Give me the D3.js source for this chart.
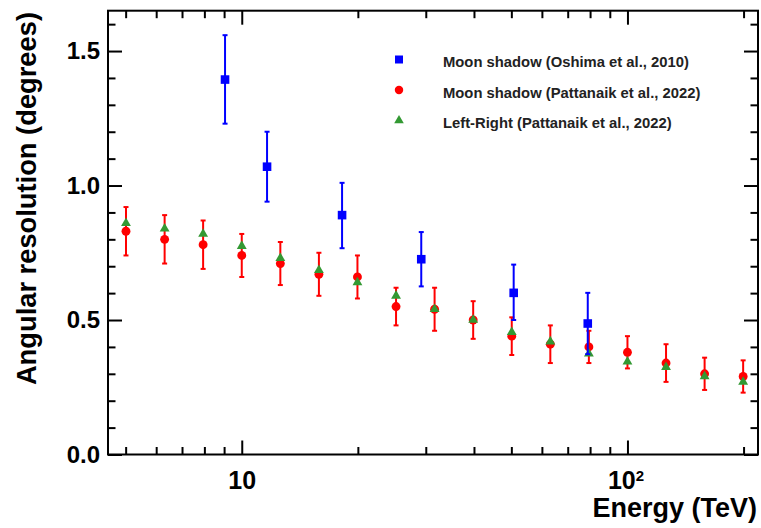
<!DOCTYPE html>
<html>
<head>
<meta charset="utf-8">
<script src="https://cdn.jsdelivr.net/npm/d3@7"></script>
<style>
  body { margin: 0; background: #fff; }
  svg { display: block; font-family: "Liberation Sans", Arial, Helvetica, sans-serif; font-weight: bold; }
</style>
</head>
<body>
<svg width="761" height="528"></svg>
<script>
// energies in TeV
const energyP = [5.01, 6.31, 7.94, 10, 12.59, 15.85, 19.95, 25.12, 31.62, 39.81, 50.12, 63.10, 79.43, 100, 125.9, 158.5, 199.5];
// Moon shadow (Pattanaik et al., 2022)
const moonP    = [0.83, 0.80, 0.78, 0.74, 0.71, 0.67, 0.66, 0.55, 0.54, 0.50, 0.44, 0.41, 0.40, 0.38, 0.34, 0.30, 0.29];
const moonPHi  = [0.92, 0.89, 0.87, 0.82, 0.79, 0.75, 0.74, 0.62, 0.62, 0.57, 0.51, 0.48, 0.46, 0.44, 0.41, 0.36, 0.35];
const moonPLo  = [0.74, 0.71, 0.69, 0.66, 0.63, 0.59, 0.58, 0.48, 0.46, 0.43, 0.37, 0.34, 0.34, 0.32, 0.27, 0.24, 0.23];
// Left-Right (Pattanaik et al., 2022)
const leftRight = [0.86, 0.84, 0.82, 0.775, 0.73, 0.685, 0.64, 0.59, 0.54, 0.50, 0.455, 0.42, 0.375, 0.345, 0.325, 0.29, 0.27];
// Moon shadow (Oshima et al., 2010)
const energyO  = [9.05, 11.63, 18.2, 29.2, 50.7, 78.9];
const moonO    = [1.394, 1.07, 0.89, 0.726, 0.601, 0.487];
const moonOHi  = [1.559, 1.20, 1.01, 0.827, 0.706, 0.601];
const moonOLo  = [1.23, 0.94, 0.767, 0.625, 0.50, 0.373];

const xMajor = [10, 100];
const xMinor = [5, 6, 7, 8, 9, 20, 30, 40, 50, 60, 70, 80, 90, 200];
const yMajor = [0, 0.5, 1.0, 1.5];
const yMinor = [0.1, 0.2, 0.3, 0.4, 0.6, 0.7, 0.8, 0.9, 1.1, 1.2, 1.3, 1.4, 1.6];

const legendLabels = ["Moon shadow (Oshima et al., 2010)", "Moon shadow (Pattanaik et al., 2022)", "Left-Right (Pattanaik et al., 2022)"];

const blue = "#0000ff", red = "#ff0000", green = "#339933";

const pLeft = 108, pRight = 758, pTop = 10.7, pBottom = 454.5;
const svg = d3.select("svg");

const x = d3.scaleLog().domain([4.5, 218]).range([pLeft, pRight]);
const y = d3.scaleLinear().domain([0, 1.65]).range([pBottom, pTop]);

// frame
svg.append("rect")
    .attr("x", pLeft).attr("y", pTop)
    .attr("width", pRight - pLeft).attr("height", pBottom - pTop)
    .attr("fill", "none").attr("stroke", "#000").attr("stroke-width", 2);

function styleAxis(g) {
    g.select(".domain").remove();
    g.selectAll(".tick line").attr("stroke", "#000").attr("stroke-width", 2);
}

// x axes (bottom + mirrored top)
svg.append("g").attr("transform", "translate(0," + pBottom + ")")
    .call(d3.axisBottom(x).tickValues(xMinor).tickSize(-7.5).tickFormat(""))
    .call(styleAxis);
const xb = svg.append("g").attr("transform", "translate(0," + pBottom + ")")
    .call(d3.axisBottom(x).tickValues(xMajor).tickSize(-14).tickPadding(17).tickFormat(d => "10"))
    .call(styleAxis);
xb.selectAll("text").attr("font-size", 25).attr("font-family", null).attr("fill", "#000")
    .each(function(d) {
        if (d === 100) {
            d3.select(this).append("tspan").attr("dy", -8).attr("font-size", 15).text("2");
            d3.select(this).attr("dx", -2);
        }
    });
svg.append("g").attr("transform", "translate(0," + pTop + ")")
    .call(d3.axisTop(x).tickValues(xMinor).tickSize(-7.5).tickFormat(""))
    .call(styleAxis);
svg.append("g").attr("transform", "translate(0," + pTop + ")")
    .call(d3.axisTop(x).tickValues(xMajor).tickSize(-14).tickFormat(""))
    .call(styleAxis);

// y axes (left + mirrored right)
svg.append("g").attr("transform", "translate(" + pLeft + ",0)")
    .call(d3.axisLeft(y).tickValues(yMinor).tickSize(-7.5).tickFormat(""))
    .call(styleAxis);
const yl = svg.append("g").attr("transform", "translate(" + pLeft + ",0)")
    .call(d3.axisLeft(y).tickValues(yMajor).tickSize(-14).tickPadding(8).tickFormat(d3.format(".1f")))
    .call(styleAxis);
yl.selectAll("text").attr("font-size", 24).attr("font-family", null).attr("fill", "#000");
svg.append("g").attr("transform", "translate(" + pRight + ",0)")
    .call(d3.axisRight(y).tickValues(yMinor).tickSize(-7.5).tickFormat(""))
    .call(styleAxis);
svg.append("g").attr("transform", "translate(" + pRight + ",0)")
    .call(d3.axisRight(y).tickValues(yMajor).tickSize(-14).tickFormat(""))
    .call(styleAxis);

// axis titles
svg.append("text")
    .attr("x", 757).attr("y", 517)
    .attr("text-anchor", "end").attr("font-size", 27)
    .text("Energy (TeV)");
svg.append("text")
    .attr("transform", "translate(36,12) rotate(-90)")
    .attr("text-anchor", "end").attr("font-size", 27.3)
    .text("Angular resolution (degrees)");

// error bars
function errorBars(es, lo, hi, color) {
    const g = svg.append("g").attr("stroke", color).attr("stroke-width", 2);
    es.forEach((e, i) => {
        g.append("line").attr("x1", x(e)).attr("x2", x(e)).attr("y1", y(lo[i])).attr("y2", y(hi[i]));
        [lo[i], hi[i]].forEach(v => {
            g.append("line").attr("x1", x(e) - 2.5).attr("x2", x(e) + 2.5).attr("y1", y(v)).attr("y2", y(v));
        });
    });
}
function markers(es, vals, type, size, color) {
    svg.append("g").selectAll("path").data(vals).enter().append("path")
        .attr("transform", (d, i) => "translate(" + x(es[i]) + "," + y(d) + ")")
        .attr("d", d3.symbol().type(type).size(size))
        .attr("fill", color);
}

errorBars(energyP, moonPLo, moonPHi, red);
markers(energyP, moonP, d3.symbolCircle, 62, red);
markers(energyP, leftRight, d3.symbolTriangle, 42, green);
errorBars(energyO, moonOLo, moonOHi, blue);
markers(energyO, moonO, d3.symbolSquare, 74, blue);

// legend
const legTypes = [d3.symbolSquare, d3.symbolCircle, d3.symbolTriangle];
const legSizes = [64, 56, 40];
const legColors = [blue, red, green];
const leg = svg.append("g");
legendLabels.forEach((t, i) => {
    const yy = 59.5 + i * 30.5;
    leg.append("path")
        .attr("transform", "translate(399," + yy + ")")
        .attr("d", d3.symbol().type(legTypes[i]).size(legSizes[i]))
        .attr("fill", legColors[i]);
    leg.append("text")
        .attr("x", 443).attr("y", yy + 7.5)
        .attr("font-size", 14.8)
        .attr("fill", "#222")
        .text(t);
});
</script>
</body>
</html>
